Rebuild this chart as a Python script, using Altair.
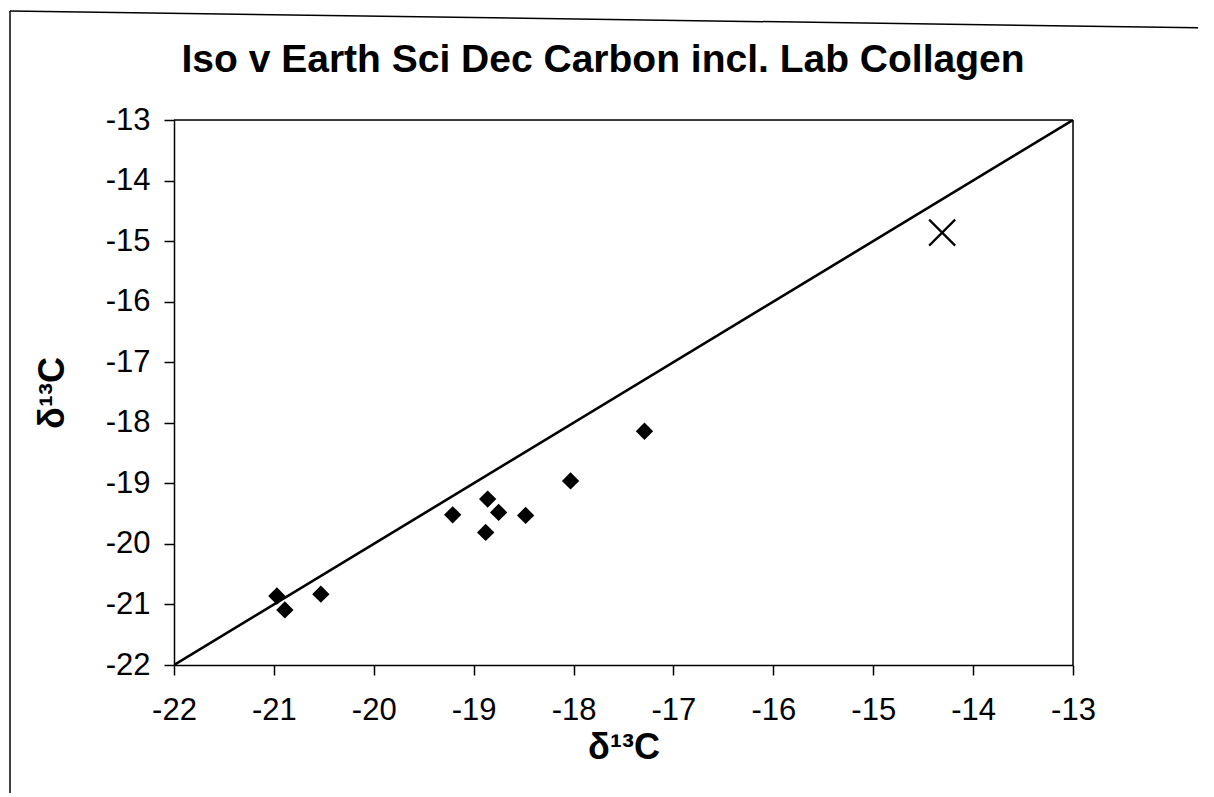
import altair as alt
import pandas as pd

TITLE = "Iso v Earth Sci Dec Carbon incl. Lab Collagen"
# Lab collagen / Earth Sci decarbonated values
x_vals = [-20.97, -20.89, -20.53, -19.21, -18.86, -18.75, -18.88, -18.48, -18.03, -17.29]
y_vals = [-20.86, -21.09, -20.83, -19.52, -19.26, -19.48, -19.81, -19.53, -18.96, -18.14]
# single outlier marked with an X
x_cross = [-14.31]
y_cross = [-14.86]
# 1:1 line endpoints
line_x = [-22, -13]
line_y = [-22, -13]
ticks = [-22, -21, -20, -19, -18, -17, -16, -15, -14, -13]

pts = pd.DataFrame({"x": x_vals, "y": y_vals})
crs = pd.DataFrame({"x": x_cross, "y": y_cross})
ln = pd.DataFrame({"x": line_x, "y": line_y})
one = pd.DataFrame({"t": [TITLE]})

FONT = "Liberation Sans, Arial"
xs = alt.Scale(domain=[-22, -13], nice=False, zero=False)
ys = alt.Scale(domain=[-22, -13], nice=False, zero=False)

xax = alt.Axis(values=ticks, title="δ¹³C", grid=False, tickSize=10, tickColor="black",
               domainColor="black", domainWidth=1.5, tickWidth=1.5, labelFlush=False,
               labelExpr="datum.value + ''",
               labelFont=FONT, labelFontSize=31, labelColor="black", labelPadding=20,
               titleFont=FONT, titleFontSize=36, titleFontWeight="bold", titleColor="black",
               titlePadding=5)
yax = alt.Axis(values=ticks, title="δ¹³C", grid=False, tickSize=10, tickColor="black",
               domainColor="black", domainWidth=1.5, tickWidth=1.5, labelFlush=False,
               labelExpr="datum.value + ''",
               labelFont=FONT, labelFontSize=31, labelColor="black", labelPadding=14,
               titleFont=FONT, titleFontSize=36, titleFontWeight="bold", titleColor="black",
               titlePadding=34)

line = alt.Chart(ln).mark_line(color="black", strokeWidth=2.6, clip=True).encode(
    x=alt.X("x:Q", scale=xs, axis=xax),
    y=alt.Y("y:Q", scale=ys, axis=yax),
)
diam = alt.Chart(pts).mark_point(shape="diamond", filled=True, color="black", size=300, opacity=1).encode(
    x=alt.X("x:Q", scale=xs), y=alt.Y("y:Q", scale=ys))
cross = alt.Chart(crs).mark_point(shape="M-1,-1L1,1M-1,1L1,-1", filled=False, color="black",
                                   size=676, strokeWidth=2.2, opacity=1).encode(
    x=alt.X("x:Q", scale=xs), y=alt.Y("y:Q", scale=ys))

# chart title as a text mark above the plot area
title = alt.Chart(one).mark_text(font=FONT, fontSize=39, fontWeight="bold", color="black",
                                 align="center", baseline="alphabetic").encode(
    text="t:N", x=alt.value(429), y=alt.value(-48))

# plot-area frame: top and right edges in black
box_top = alt.Chart(pd.DataFrame({"a": [0]})).mark_rule(color="black", strokeWidth=1.5, clip=False).encode(
    x=alt.value(0), x2=alt.value(899), y=alt.value(0))
box_right = alt.Chart(pd.DataFrame({"a": [0]})).mark_rule(color="black", strokeWidth=1.5, clip=False).encode(
    x=alt.value(899), y=alt.value(0), y2=alt.value(545))

# outer chart-area frame (top and left edges, as in the scanned original)
frame_top = alt.Chart(pd.DataFrame({"a": [0]})).mark_rule(color="black", strokeWidth=1.5, clip=False).encode(
    x=alt.value(-164), x2=alt.value(1040), y=alt.value(-109), y2=alt.value(-92))
frame_left = alt.Chart(pd.DataFrame({"a": [0]})).mark_rule(color="black", strokeWidth=1.5, clip=False).encode(
    x=alt.value(-164), x2=alt.value(-164), y=alt.value(-109), y2=alt.value(677))

chart = alt.layer(line, diam, cross, title, box_top, box_right, frame_top, frame_left).properties(
    width=899, height=545,
    padding={"left": 166, "top": 112, "right": 125, "bottom": 128},
    autosize=alt.AutoSizeParams(type="none"),
).configure_view(stroke="black", strokeWidth=1.5, strokeOpacity=1).configure(background="white")

chart.save("out.html", embed_options={"renderer": "svg", "actions": False})
